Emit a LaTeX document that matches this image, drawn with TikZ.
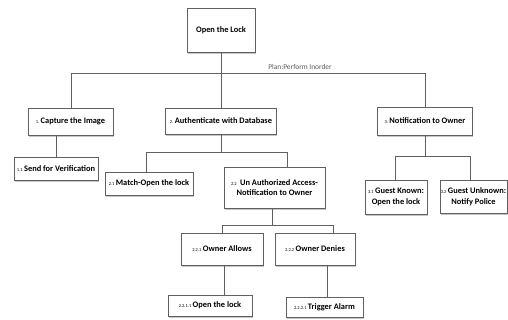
\documentclass[tikz,border=0pt]{standalone}
\usepackage{fontspec}
\setmainfont{Carlito}
\usetikzlibrary{shadows}
\newcommand{\stepno}[1]{{\fontsize{4.5}{5}\selectfont\mdseries #1}\,}

\begin{document}
\begin{tikzpicture}[x=1pt,y=-1pt,
  box/.style={draw=gray!75!black, line width=0.6pt, fill=white, align=center,
    inner sep=0.5pt, font=\fontsize{8.4}{10.5}\selectfont\bfseries,
    drop shadow={shadow xshift=0.6pt, shadow yshift=-1.6pt, fill=gray!45, opacity=1}},
  link/.style={draw=gray!75!black, line width=0.7pt}]
  \useasboundingbox (0,0) rectangle (508,320);
  %Root
  \node[box, minimum width=68pt, minimum height=44pt] (root) at (221,30) {Open the Lock};
  %Level 1
  \node[box, minimum width=85pt, minimum height=27pt] (capture) at (70.5,121.5) {\stepno{1.}Capture the Image};
  \node[box, minimum width=111pt, minimum height=26pt] (auth) at (221,121) {\stepno{2.}Authenticate with Database};
  \node[box, minimum width=95pt, minimum height=28pt] (notify) at (425,121) {\stepno{3.}Notification to Owner};
  %Level 2
  \node[box, minimum width=84pt, minimum height=23pt] (send) at (56,168.5) {\stepno{1.1}Send for Verification};
  \node[box, minimum width=88pt, minimum height=23pt] (match) at (149,183.5) {\stepno{2.1}Match-Open the lock};
  \node[box, minimum width=101pt, minimum height=41pt] (unauth) at (274.5,187.5) {\stepno{2.2}\ Un Authorized Access-\\Notification to Owner};
  \node[box, minimum width=62pt, minimum height=34pt] (known) at (396,197) {\stepno{3.1}Guest Known:\\Open the lock};
  \node[box, minimum width=67pt, minimum height=33pt] (unknown) at (473.5,196.5) {\stepno{3.2}Guest Unknown:\\Notify Police};
  %Level 3
  \node[box, minimum width=82pt, minimum height=32pt] (allows) at (222,249) {\stepno{2.2.1}Owner Allows};
  \node[box, minimum width=80pt, minimum height=32pt] (denies) at (315,249) {\stepno{2.2.2}Owner Denies};
  %Level 4
  \node[box, minimum width=84pt, minimum height=21pt] (openlock) at (210,305.5) {\stepno{2.2.1.1}Open the lock};
  \node[box, minimum width=77pt, minimum height=20pt] (alarm) at (324.5,307) {\stepno{2.2.2.1}Trigger Alarm};

  %Bus lines
  \coordinate (busA) at (71,73);
  \coordinate (busB) at (425,73);
  \coordinate (busC) at (146,152);
  \coordinate (busD) at (287,152);
  \coordinate (busE) at (395,156);
  \coordinate (busF) at (470,156);
  \coordinate (busG) at (222,225);
  \coordinate (busH) at (333,225);
  \coordinate (dropU) at (272,225);
  \coordinate (dropA) at (224,0);
  \coordinate (dropD) at (327,0);

  %Connectors
  \draw[link] (root.south) -- (auth.north);
  \draw[link] (busA) -- (busB) node[pos=0.647, above=-0.5pt, font=\fontsize{7.4}{8}\selectfont, text=gray!70!black] {Plan:Perform Inorder};
  \draw[link] (busA) -- (busA |- capture.north);
  \draw[link] (busB) -- (busB |- notify.north);

  \draw[link] (capture.south -| send.north) -- (send.north);

  \draw[link] (auth.south) -- (auth.south |- busC);
  \draw[link] (busC) -- (busD);
  \draw[link] (busC) -- (busC |- match.north);
  \draw[link] (busD) -- (busD |- unauth.north);

  \draw[link] (notify.south) -- (notify.south |- busE);
  \draw[link] (busE) -- (busF);
  \draw[link] (busE) -- (busE |- known.north);
  \draw[link] (busF) -- (busF |- unknown.north);

  \draw[link] (dropU |- unauth.south) -- (dropU);
  \draw[link] (busG) -- (busH);
  \draw[link] (busG) -- (busG |- allows.north);
  \draw[link] (busH) -- (busH |- denies.north);

  \draw[link] (dropA |- allows.south) -- (dropA |- openlock.north);
  \draw[link] (dropD |- denies.south) -- (dropD |- alarm.north);
\end{tikzpicture}
\end{document}
